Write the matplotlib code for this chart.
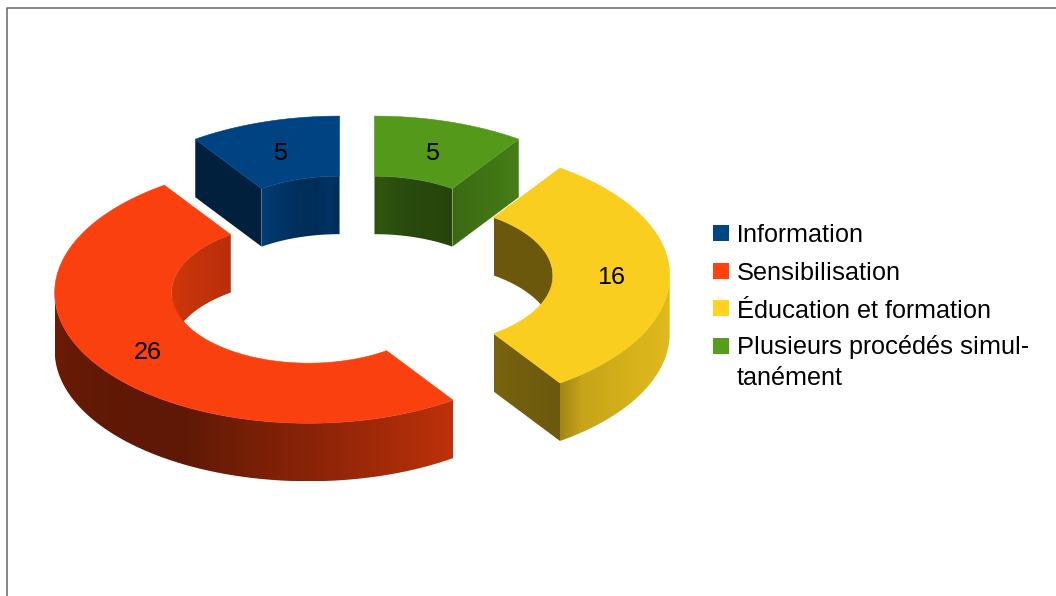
import matplotlib
matplotlib.use('Agg')
import matplotlib.pyplot as plt
from matplotlib.patches import Polygon, Rectangle
import numpy as np

labels = ['Information', 'Sensibilisation', 'Éducation et formation',
          'Plusieurs procédés simul-\ntanément']
values = [5, 26, 16, 5]
colors = ['#004586', '#ff420e', '#ffd320', '#579d1c']

# brightness of the side faces: (angle in degrees, factor)
outer_shade = [
    [(180, 0.45), (360, 0.45)],
    [(180, 0.43), (215, 0.38), (240, 0.37), (270, 0.54), (305, 0.75)],
    [(304, 0.62), (311, 0.78), (330, 0.85), (360, 0.89), (416, 0.89)],
    [(0, 0.8), (90, 0.8)],
]
inner_shade = [
    [(90, 0.64), (94, 0.75), (100, 0.66), (110, 0.70), (125, 0.87)],
    [(124, 0.72), (150, 0.78), (180, 0.84)],
    [(0, 0.42), (56, 0.42)],
    [(55, 0.44), (70, 0.46), (80, 0.49), (87, 0.55), (90, 0.52)],
]
# wall brightness from left to right on screen
wall_shade = [
    (0.47, 0.47),
    (0.5, 0.5),
    (0.47, 0.42),
    (0.67, 0.80),
]

legend_baselines = [242, 280, 317.5, 385]
legend_boxes = [225, 263, 300, 338]

# ring geometry in pixels
cx, cy = 357.0, 275.5
rx, ry = 254.0, 130.6
hole = 0.54
explode = 58.7
depth = 58.0
start = 90.0

plt.rcParams['font.family'] = ['Liberation Sans', 'DejaVu Sans']
plt.rcParams['text.hinting'] = 'native'
plt.rcParams['text.hinting_factor'] = 1

fig = plt.figure(figsize=(10.56, 5.96), dpi=100)
ax = fig.add_axes([0, 0, 1, 1])
ax.set_xlim(0, 1056)
ax.set_ylim(596, 0)
ax.axis('off')


def point(x0, y0, angle, r):
    a = np.radians(angle)
    return x0 + r * rx * np.cos(a), y0 - r * ry * np.sin(a)


def shade(color, factor):
    return np.array(matplotlib.colors.to_rgb(color)) * factor


def gradient_face(pts, xs, factors, color, z):
    # horizontal gradient clipped to the face outline
    pts = np.asarray(pts)
    xmin, xmax = pts[:, 0].min(), pts[:, 0].max()
    ymin, ymax = pts[:, 1].min(), pts[:, 1].max()
    order = np.argsort(xs)
    cols = np.linspace(xmin, xmax, max(int(xmax - xmin) * 2, 2))
    f = np.interp(cols, np.asarray(xs)[order], np.asarray(factors)[order])
    img = (f[None, :, None] * np.array(matplotlib.colors.to_rgb(color))[None, None, :])
    im = ax.imshow(img, extent=(xmin, xmax, ymax, ymin), aspect='auto',
                   interpolation='bilinear', zorder=z)
    clip = Polygon(pts, closed=True, transform=ax.transData)
    im.set_clip_path(clip)


def curved_side(x0, y0, a1, a2, r, table, color, z):
    angles = np.linspace(a1, a2, 200)
    xa, ya = point(x0, y0, angles, r)
    f = np.interp(angles, [p[0] for p in table], [p[1] for p in table])
    pts = np.column_stack([np.r_[xa, xa[::-1]], np.r_[ya, ya[::-1] + depth]])
    gradient_face(pts, xa, f, color, z)


def flat_wall(x0, y0, angle, left_right, color, z):
    x1, y1 = point(x0, y0, angle, hole)
    x2, y2 = point(x0, y0, angle, 1)
    pts = [(x1, y1), (x2, y2), (x2, y2 + depth), (x1, y1 + depth)]
    xs = sorted([x1, x2])
    gradient_face(pts, xs, left_right, color, z)


total = sum(values)
angle = start
slices = []
for i, v in enumerate(values):
    slices.append((i, angle, angle + v / total * 360))
    angle += v / total * 360

# back slices first so the front ones overlap them
slices.sort(key=lambda s: -np.sin(np.radians((s[1] + s[2]) / 2)))

for n, (i, a1, a2) in enumerate(slices):
    mid = (a1 + a2) / 2
    x0 = cx + explode * np.cos(np.radians(mid))
    y0 = cy - explode * ry / rx * np.sin(np.radians(mid))
    z = 2 + n * 10
    col = colors[i]

    if np.cos(np.radians(a1)) > 0.01:
        flat_wall(x0, y0, a1, wall_shade[i], col, z)
    if np.cos(np.radians(a2)) < -0.01:
        flat_wall(x0, y0, a2, wall_shade[i], col, z)

    # inner wall shows where the ring is behind the hole
    for k in (0, 360):
        lo, hi = max(a1, k), min(a2, k + 180)
        if hi > lo:
            curved_side(x0, y0, lo - k, hi - k, hole, inner_shade[i], col, z + 1)
    # outer wall shows along the front
    lo, hi = max(a1, 180), min(a2, 360)
    if hi > lo:
        curved_side(x0, y0, lo, hi, 1, outer_shade[i], col, z + 2)

    arc = np.linspace(a1, a2, 200)
    ox, oy = point(x0, y0, arc, 1)
    ix, iy = point(x0, y0, arc[::-1], hole)
    top = np.column_stack([np.r_[ox, ix], np.r_[oy, iy]])
    ax.add_patch(Polygon(top, closed=True, facecolor=shade(col, 0.975),
                         edgecolor=shade(col, 0.975), linewidth=0.4, zorder=z + 3))

    lx, ly = point(x0, y0, mid, (1 + hole) / 2)
    ax.text(lx, ly + 2.5, str(values[i]), fontsize=18, color='black',
            ha='center', va='center', zorder=100)

for i in range(len(labels)):
    ax.add_patch(Rectangle((713, legend_boxes[i]), 16, 16, facecolor=colors[i],
                           edgecolor='none', zorder=100))
    ax.text(737, legend_baselines[i], labels[i], fontsize=18, color='black',
            ha='left', va='baseline', linespacing=1.42, zorder=100)

# frame of the page, only top and left are in the crop
ax.plot([6.5, 6.5, 1056], [596, 7.5, 7.5], color='#666666', linewidth=1.1, zorder=1)

fig.savefig('out.png', dpi=100)
